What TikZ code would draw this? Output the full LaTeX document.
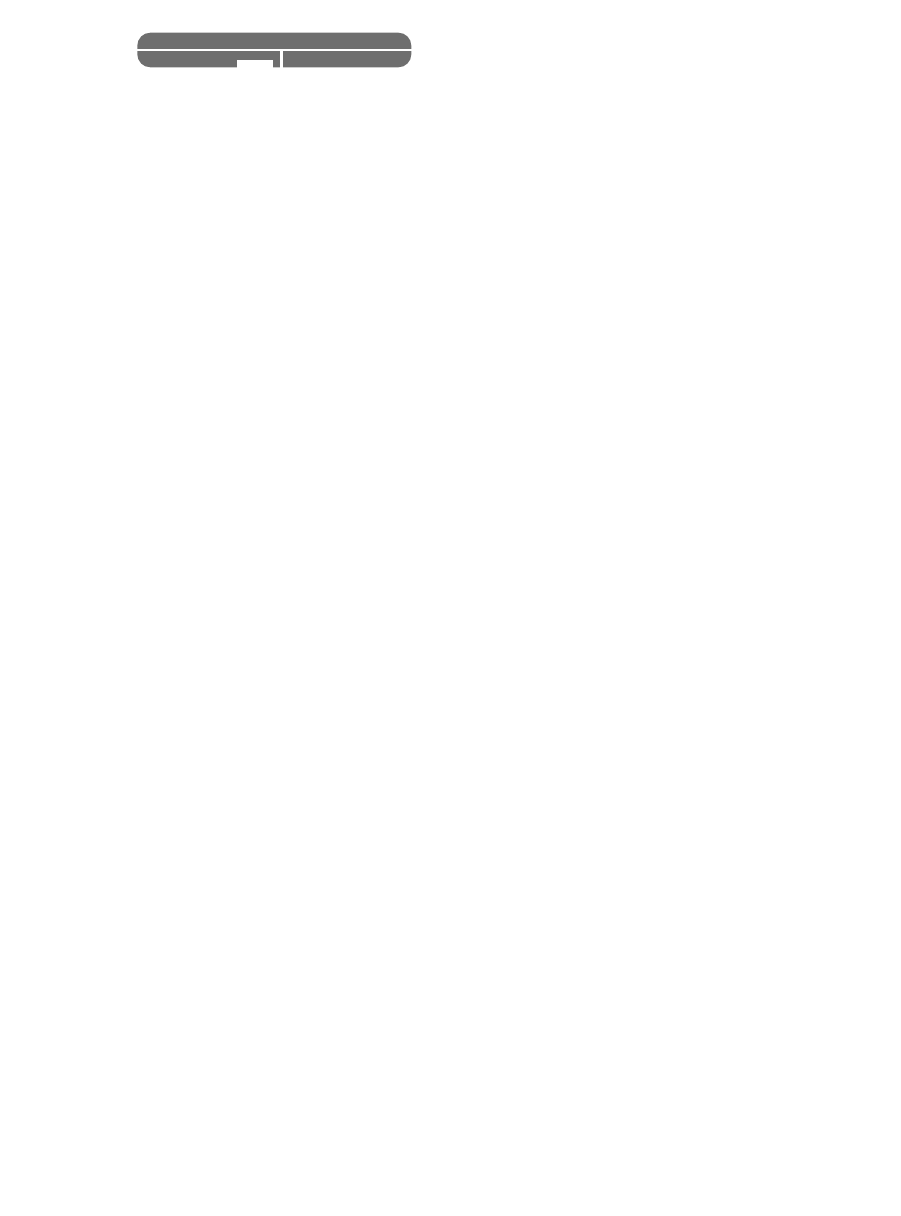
\documentclass[tikz,border=0pt]{standalone}
\usepackage{tikz}

\tikzset{
  body/.style={fill=black!57, rounded corners=0.26cm},
  cut/.style={fill=white}
}

\begin{document}
\begin{tikzpicture}[x=0.02cm,y=-0.02cm]
      \useasboundingbox (0,0) rectangle (900,1216);

      \begin{scope}
        \path[body] (137.3,32.7) rectangle (411.3,67.3);
        \path[cut] (130,49.3) rectangle (420,51.3);
        \path[cut] (280,51) rectangle (282.7,70);
        \path[cut] (237.3,60) rectangle (273.3,70);
      \end{scope}
    \end{tikzpicture}
\end{document}
